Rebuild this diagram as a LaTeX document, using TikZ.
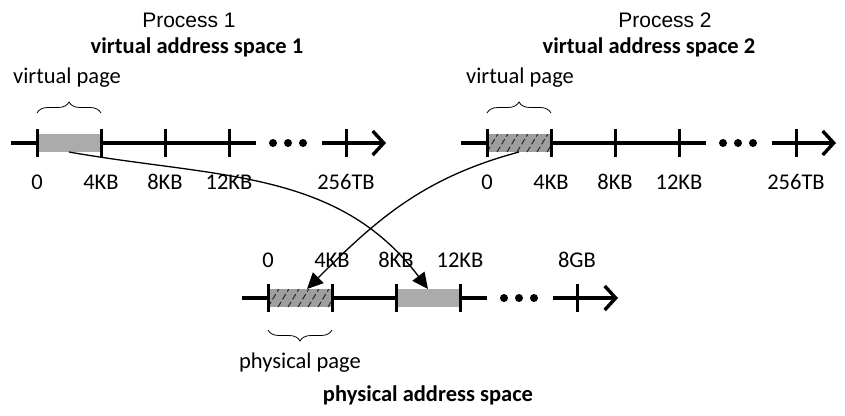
\documentclass[tikz,border=0pt]{standalone}
\usepackage{fontspec}
\setmainfont{Carlito}
\newfontfamily\arialfont{Liberation Sans}
\usetikzlibrary{arrows.meta,decorations.pathreplacing}

\tikzset{
  axisline/.style={line width=3.4pt},
  tickmark/.style={line width=3pt},
  pagebox/.style={draw=none, fill=black!33, minimum width=64pt, minimum height=18pt, inner sep=0pt, outer sep=0pt},
  hatched/.style={pagebox, fill=black!38, path picture={
      \foreach \i in {-20,-10,...,70}
        \draw[black!85, line width=1pt, dash pattern=on 6pt off 3pt]
          ([xshift=\i pt]path picture bounding box.south west) -- ++(12,20);}},
  mapping/.style={line width=1.3pt, -{Triangle[length=16pt,width=15pt]}},
  lbl/.style={font=\fontsize{22.5}{26}\selectfont, inner sep=0pt},
  title/.style={font=\arialfont\fontsize{21}{25}\selectfont, inner sep=0pt},
  heading/.style={font=\bfseries\fontsize{22.5}{26}\selectfont, inner sep=0pt},
  pagebrace/.style={decorate, decoration={brace, amplitude=11pt}, line width=0.8pt},
}

\begin{document}
\begin{tikzpicture}[x=1pt, y=1pt, line cap=butt]
  \useasboundingbox (0,0) rectangle (845,-415);

  % 1. Titles
  \node[title] (proc1) at (189,-20) {Process 1};
  \node[heading] (vas1) at (197,-47) {virtual address space 1};
  \node[title] (proc2) at (665,-20) {Process 2};
  \node[heading] (vas2) at (649,-47) {virtual address space 2};
  \node[heading] (pas) at (428,-395) {physical address space};

  % 2. Virtual address space 1
  \begin{scope}[shift={(37,-143)}]
    \draw[axisline] (-26,0) -- (219,0);
    \draw[axisline, -{Straight Barb[length=11pt,width=24pt]}] (285,0) -- (349,0);
    \node[pagebox, anchor=west] (vp1) at (0,0) {};
    \foreach \x in {0,64,128,192,309}
      \draw[tickmark] (\x,14) -- (\x,-14);
    \foreach \x in {236,251,266}
      \fill (\x,0) circle (4);
    \foreach \x/\t/\n in {0/0/a,64/4KB/b,128/8KB/c,192/12KB/d,309/256TB/e}
      \node[lbl] (v1\n) at (\x,-39) {\t};
    \draw[pagebrace] (0,30) -- (64,30);
    \node[lbl] (vpage1) at (30,65) {virtual page};
  \end{scope}

  % 3. Virtual address space 2
  \begin{scope}[shift={(487,-143)}]
    \draw[axisline] (-26,0) -- (219,0);
    \draw[axisline, -{Straight Barb[length=11pt,width=24pt]}] (285,0) -- (349,0);
    \node[hatched, anchor=west] (vp2) at (0,0) {};
    \foreach \x in {0,64,128,192,309}
      \draw[tickmark] (\x,14) -- (\x,-14);
    \foreach \x in {236,251,266}
      \fill (\x,0) circle (4);
    \foreach \x/\t/\n in {0/0/a,64/4KB/b,128/8KB/c,192/12KB/d,309/256TB/e}
      \node[lbl] (v2\n) at (\x,-39) {\t};
    \draw[pagebrace] (0,30) -- (64,30);
    \node[lbl] (vpage2) at (33,65) {virtual page};
  \end{scope}

  % 4. Physical address space
  \begin{scope}[shift={(268,-298)}]
    \draw[axisline] (-26,0) -- (219,0);
    \draw[axisline, -{Straight Barb[length=11pt,width=24pt]}] (285,0) -- (350,0);
    \node[hatched, anchor=west] (pp0) at (0,0) {};
    \node[pagebox, anchor=west] (pp2) at (128,0) {};
    \foreach \x in {0,64,128,192,309}
      \draw[tickmark] (\x,14) -- (\x,-14);
    \foreach \x in {236,251,266}
      \fill (\x,0) circle (4);
    \foreach \x/\t/\n in {0/0/a,64/4KB/b,128/8KB/c,192/12KB/d,309/8GB/e}
      \node[lbl] (p\n) at (\x,38) {\t};
    \draw[pagebrace] (64,-32) -- (0,-32);
    \node[lbl] (ppage) at (32,-65) {physical page};
  \end{scope}

  % 5. Page mappings
  \draw[mapping] (vp1.south) to[out=-10, in=127] (pp2.north);
  \draw[mapping] (vp2.south) to[out=195, in=45] ([xshift=7pt]pp0.north);
\end{tikzpicture}
\end{document}
